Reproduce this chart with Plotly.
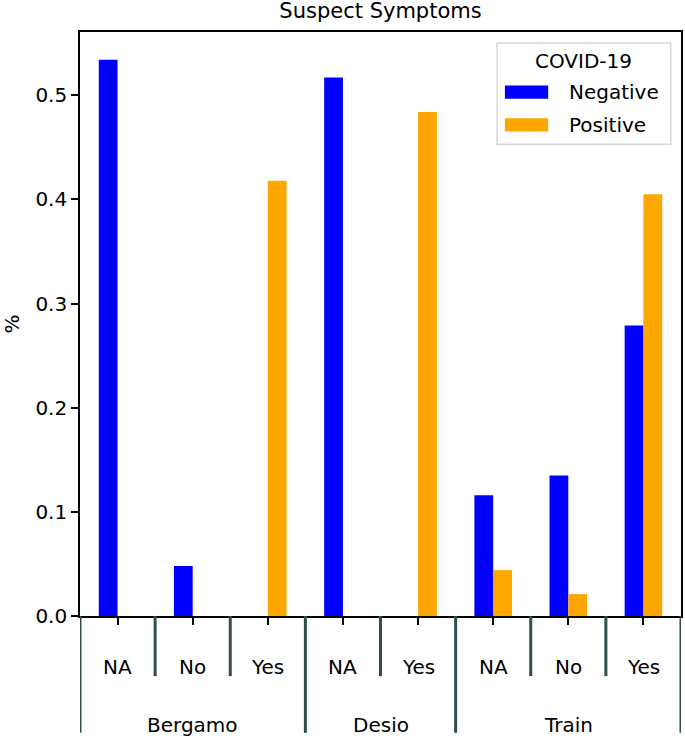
import plotly.graph_objects as go

# Data
groups = ["Bergamo", "Bergamo", "Bergamo", "Desio", "Desio", "Train", "Train", "Train"]
levels = ["NA", "No", "Yes", "NA", "Yes", "NA", "No", "Yes"]
negative = [0.534, 0.048, 0.0, 0.517, 0.0, 0.116, 0.135, 0.279]
positive = [0.0, 0.0, 0.418, 0.0, 0.484, 0.044, 0.021, 0.405]
series_names = ["Negative", "Positive"]
series_colors = ["#0000FF", "#FFA500"]
y_ticks = [0.0, 0.1, 0.2, 0.3, 0.4, 0.5]

FONT = "DejaVu Sans"
DIV_COLOR = "#2F4F4F"
idx = list(range(len(levels)))

fig = go.Figure()
for name, vals, col in zip(series_names, [negative, positive], series_colors):
    fig.add_trace(go.Bar(x=idx, y=vals, name=name, showlegend=False,
                         marker=dict(color=col, line=dict(width=0))))

# inner (level) labels
for i, lab in enumerate(levels):
    fig.add_annotation(x=i, y=-0.087, xref="x", yref="paper", text=lab,
                       xanchor="center", yanchor="middle", showarrow=False,
                       font=dict(family=FONT, size=20, color="black"))

# outer (group) labels and dividers
starts = [i for i in idx if i == 0 or groups[i] != groups[i - 1]]
ends = starts[1:] + [len(groups)]
for s, e in zip(starts, ends):
    fig.add_annotation(x=(s + e - 1) / 2, y=-0.187, xref="x", yref="paper", text=groups[s],
                       xanchor="center", yanchor="middle", showarrow=False,
                       font=dict(family=FONT, size=20, color="black"))
    fig.add_shape(type="line", xref="x", yref="paper", x0=s - 0.5, x1=s - 0.5, y0=0, y1=-0.2,
                  line=dict(color=DIV_COLOR, width=3))
    for k in range(s + 1, e):
        fig.add_shape(type="line", xref="x", yref="paper", x0=k - 0.5, x1=k - 0.5, y0=0, y1=-0.103,
                      line=dict(color=DIV_COLOR, width=3))
fig.add_shape(type="line", xref="x", yref="paper", x0=len(groups) - 0.5, x1=len(groups) - 0.5,
              y0=0, y1=-0.2, line=dict(color=DIV_COLOR, width=3))

# legend box drawn like matplotlib's
fig.add_shape(type="rect", xref="paper", yref="paper", x0=0.694, x1=0.983, y0=0.808, y1=0.981,
              fillcolor="rgba(255,255,255,0.8)", line=dict(color="#d6d6d6", width=1.5))
fig.add_annotation(x=0.837, y=0.950, xref="paper", yref="paper", text="COVID-19",
                   showarrow=False, xanchor="center", yanchor="middle",
                   font=dict(family=FONT, size=20, color="black"))
for j, (name, col) in enumerate(zip(series_names, series_colors)):
    yc = 0.897 - j * 0.056
    fig.add_shape(type="rect", xref="paper", yref="paper", x0=0.707, x1=0.779,
                  y0=yc - 0.0115, y1=yc + 0.0115, fillcolor=col, line=dict(width=0))
    fig.add_annotation(x=0.810, y=yc, xref="paper", yref="paper", text=name, xanchor="left",
                       yanchor="middle", showarrow=False,
                       font=dict(family=FONT, size=20, color="black"))

fig.update_layout(
    width=685, height=740,
    margin=dict(l=80, r=4, t=32, b=124),
    plot_bgcolor="white", paper_bgcolor="white",
    font=dict(family=FONT, size=20, color="black"),
    barmode="group", bargap=0.5, bargroupgap=0,
    title=dict(text="Suspect Symptoms", x=(80 + 681) / 2 / 685, xanchor="center",
               y=1 - 11 / 740, yanchor="middle", font=dict(size=21)),
    showlegend=False,
)
fig.update_xaxes(range=[-0.5, len(levels) - 0.5], tickvals=idx, ticktext=[""] * len(idx),
                 showgrid=False, zeroline=False, showline=True, linecolor="black", linewidth=1.6,
                 mirror=True, ticks="outside", ticklen=7, tickwidth=1.6, tickcolor="black")
fig.update_yaxes(range=[0, 0.5607], tickvals=y_ticks, tickformat=".1f",
                 showgrid=False, zeroline=False, showline=True, linecolor="black", linewidth=1.6,
                 mirror=True, ticks="outside", ticklen=7, tickwidth=1.6, tickcolor="black",
                 automargin=False,
                 title=dict(text="%", standoff=18, font=dict(size=20)),
                 tickfont=dict(size=20))

fig.write_html("out.html", config={"displayModeBar": False},
               post_script="document.body.style.margin='0';")
